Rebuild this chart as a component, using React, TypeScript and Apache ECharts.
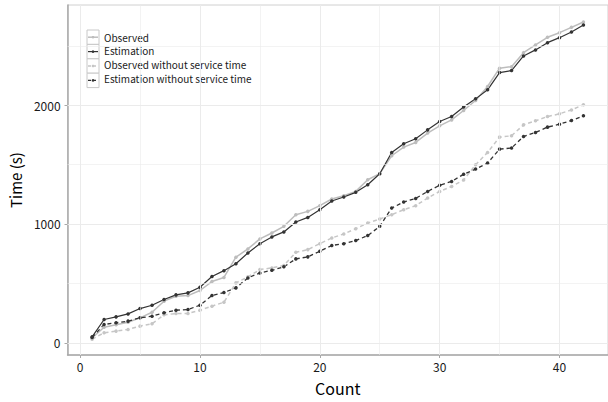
import React, { useEffect, useRef } from "react";
import * as echarts from "echarts";

const counts = [1, 2, 3, 4, 5, 6, 7, 8, 9, 10, 11, 12, 13, 14, 15, 16, 17, 18, 19, 20, 21, 22, 23, 24, 25, 26, 27, 28, 29, 30, 31, 32, 33, 34, 35, 36, 37, 38, 39, 40, 41, 42];
const observed = [40, 131, 151, 173, 210, 257, 350, 392, 397, 440, 515, 550, 720, 790, 874, 924, 980, 1078, 1106, 1154, 1210, 1238, 1274, 1372, 1423, 1574, 1647, 1686, 1765, 1826, 1876, 1955, 2039, 2157, 2311, 2324, 2442, 2507, 2571, 2610, 2655, 2700];
const estimation = [50, 196, 218, 243, 288, 316, 364, 403, 420, 467, 558, 607, 665, 756, 834, 891, 933, 1017, 1055, 1120, 1193, 1227, 1266, 1330, 1423, 1602, 1675, 1717, 1792, 1862, 1904, 1985, 2053, 2129, 2274, 2291, 2414, 2465, 2526, 2568, 2616, 2675];
const observedWithout = [30, 84, 98, 112, 140, 160, 235, 246, 246, 274, 308, 341, 504, 555, 616, 630, 650, 761, 784, 834, 882, 916, 960, 1008, 1042, 1078, 1120, 1154, 1218, 1274, 1316, 1370, 1498, 1602, 1731, 1742, 1834, 1868, 1904, 1927, 1960, 2003];
const estimationWithout = [45, 154, 168, 182, 210, 224, 252, 274, 280, 316, 397, 423, 462, 546, 588, 610, 639, 706, 723, 770, 819, 834, 860, 902, 980, 1134, 1185, 1215, 1274, 1325, 1358, 1418, 1462, 1512, 1630, 1639, 1736, 1770, 1815, 1840, 1871, 1910];

const seriesNames = ["Observed", "Estimation", "Observed without service time", "Estimation without service time"];
const seriesColors = ["#bdbdbd", "#333333", "#c6c6c6", "#333333"];
const seriesDashed = [false, false, true, true];
const seriesWidths = [1.5, 1.2, 1.5, 1.3];
const xTicks = [0, 10, 20, 30, 40];
const xMinor = [5, 15, 25, 35];
const yTicks = [0, 1000, 2000];
const yMinor = [500, 1500, 2500];

const FONT = "'Noto Sans CJK KR', 'Noto Sans', sans-serif";
const LEG_X = 87;
const LEG_Y = 30;
const LEG_H = 14.4;

export default function App() {
  const ref = useRef<HTMLDivElement>(null);
  useEffect(() => {
    if (!ref.current) return;
    const chart = echarts.init(ref.current, null, { renderer: "svg" });
    const seriesData = [observed, estimation, observedWithout, estimationWithout];
    const pair = (ys: number[]) => counts.map((c, i) => [c, ys[i]]);
    const gridLine = (axis: "xAxis" | "yAxis", v: number, w: number) => ({
      [axis]: v,
      lineStyle: { color: "#ebebeb", width: w, type: "solid" },
    });
    const legendGraphics: any[] = [];
    seriesNames.forEach((_, k) => {
      const y0 = LEG_Y + LEG_H * k;
      legendGraphics.push({
        type: "rect",
        z: 3,
        silent: true,
        shape: { x: LEG_X, y: y0, width: 12, height: LEG_H },
        style: { fill: "#ffffff", stroke: "#c8c8c8", lineWidth: 1 },
      });
      legendGraphics.push({
        type: "line",
        z: 4,
        silent: true,
        shape: { x1: LEG_X + 1, y1: y0 + LEG_H / 2, x2: LEG_X + 11, y2: y0 + LEG_H / 2 },
        style: {
          stroke: seriesColors[k],
          lineWidth: seriesWidths[k],
          lineDash: seriesDashed[k] ? [3, 2] : null,
        },
      });
      legendGraphics.push({
        type: "circle",
        z: 5,
        silent: true,
        shape: { cx: LEG_X + 6, cy: y0 + LEG_H / 2, r: 1.3 },
        style: { fill: seriesColors[k] },
      });
    });
    chart.setOption({
      animation: false,
      backgroundColor: "#ffffff",
      textStyle: { fontFamily: FONT },
      grid: { left: 64, top: 5, right: 0, bottom: 47, show: true, borderColor: "#d0d0d0", borderWidth: 1 },
      legend: {
        orient: "vertical",
        left: LEG_X,
        top: LEG_Y,
        padding: 0,
        itemWidth: 12,
        itemHeight: LEG_H,
        itemGap: 0,
        data: seriesNames.map((n) => ({ name: n, icon: "none" })),
        textStyle: { fontSize: 10, color: "#1a1a1a", fontFamily: FONT, lineHeight: 13 },
      },
      graphic: legendGraphics,
      xAxis: {
        type: "value",
        min: -1.05,
        max: 44.05,
        name: "Count",
        nameLocation: "middle",
        nameGap: 25,
        nameTextStyle: { fontSize: 16, color: "#000", fontFamily: FONT },
        axisLine: { show: true, onZero: false, lineStyle: { color: "#a8a8a8", width: 1.5 } },
        axisTick: { show: true, length: 3, customValues: xTicks, lineStyle: { color: "#a8a8a8" } },
        axisLabel: { customValues: xTicks, fontSize: 12, color: "#1a1a1a", margin: 5, fontFamily: FONT, formatter: (v: number) => String(v) },
        splitLine: { show: false },
      },
      yAxis: {
        type: "value",
        min: -103,
        max: 2843,
        name: "Time (s)",
        nameLocation: "middle",
        nameGap: 37,
        nameTextStyle: { fontSize: 15, color: "#000", fontFamily: FONT },
        axisLine: { show: true, onZero: false, lineStyle: { color: "#a8a8a8", width: 1.5 } },
        axisTick: { show: true, length: 3, customValues: yTicks, lineStyle: { color: "#a8a8a8" } },
        axisLabel: { customValues: yTicks, fontSize: 12, color: "#1a1a1a", margin: 7, fontFamily: FONT, formatter: (v: number) => String(v) },
        splitLine: { show: false },
      },
      series: [
        {
          name: "grid",
          type: "line",
          data: [],
          z: 1,
          silent: true,
          markLine: {
            silent: true,
            symbol: ["none", "none"],
            label: { show: false },
            data: [
              ...xMinor.map((v) => gridLine("xAxis", v, 0.6)),
              ...yMinor.map((v) => gridLine("yAxis", v, 0.6)),
              ...xTicks.map((v) => gridLine("xAxis", v, 1)),
              ...yTicks.map((v) => gridLine("yAxis", v, 1)),
            ],
          },
        },
        ...seriesNames.map((name, k) => ({
          name,
          type: "line",
          data: pair(seriesData[k]),
          z: 3,
          symbol: "circle",
          symbolSize: 3.5,
          itemStyle: { color: seriesColors[k] },
          lineStyle: { color: seriesColors[k], width: seriesWidths[k], type: seriesDashed[k] ? [4, 3] : "solid" },
        })),
      ],
    });
    return () => chart.dispose();
  }, []);
  return <div ref={ref} style={{ position: "fixed", left: 0, top: 0, width: 608, height: 402 }} />;
}
